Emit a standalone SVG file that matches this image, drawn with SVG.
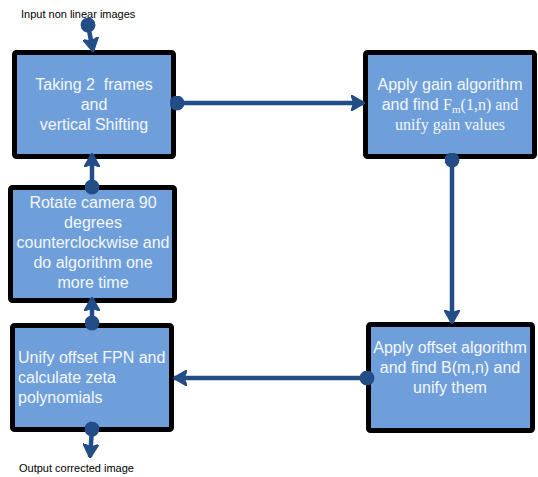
<svg xmlns="http://www.w3.org/2000/svg" width="538" height="477" viewBox="0 0 538 477">
<defs>
<style>
.box{fill:#6f9fdb;stroke:#000;stroke-width:5}
.t{font-family:"Liberation Sans",Arial,sans-serif;font-size:16px;fill:#f4f7fc}
.tr{font-family:"Liberation Serif","Times New Roman",serif;font-size:16px;fill:#f4f7fc}
.lbl{font-family:"Liberation Sans",Arial,sans-serif;font-size:11px;fill:#000}
.c{stroke:#234d86;stroke-width:4.5;fill:none;marker-start:url(#dot);marker-end:url(#arr)}
</style>
<marker id="arr" viewBox="0 0 14 16" refX="13" refY="8" markerWidth="14" markerHeight="16" markerUnits="userSpaceOnUse" orient="auto">
<path d="M0,0 L14,8 L0,16 L3,8 Z" fill="#234d86" stroke="#234d86" stroke-width="1.5" stroke-linejoin="round"/>
</marker>
<marker id="dot" viewBox="0 0 14 14" refX="7" refY="7" markerWidth="15" markerHeight="15" markerUnits="userSpaceOnUse" orient="auto">
<circle cx="7" cy="7" r="7" fill="#234d86"/>
</marker>
</defs>
<g id="input-label"><text class="lbl" x="21" y="18">Input non linear images</text></g>
<g id="output-label"><text class="lbl" x="19" y="472">Output corrected image</text></g>
<g id="n1">
<rect class="box" x="14.5" y="52.5" width="159" height="104" rx="2"/>
<text class="t" text-anchor="middle"><tspan x="94" y="90" xml:space="preserve">Taking 2  frames</tspan><tspan x="94" y="110">and</tspan><tspan x="94" y="130">vertical Shifting</tspan></text>
</g>
<g id="n2">
<rect class="box" x="365.5" y="52.5" width="169" height="104" rx="2"/>
<text class="t" text-anchor="middle" x="450" y="90">Apply gain algorithm</text>
<text text-anchor="middle" y="110"><tspan x="450" class="t">and find </tspan><tspan class="tr">F</tspan><tspan class="tr" style="font-size:11px" dy="3">m</tspan><tspan class="tr" dy="-3">(1,n) and</tspan></text>
<text class="tr" text-anchor="middle" x="450" y="130">unify gain values</text>
</g>
<g id="n3">
<rect class="box" x="10.5" y="187.5" width="164" height="113" rx="2"/>
<text class="t" text-anchor="middle"><tspan x="93" y="208">Rotate camera 90</tspan><tspan x="93" y="228">degrees</tspan><tspan x="93" y="248">counterclockwise and</tspan><tspan x="93" y="268">do algorithm one</tspan><tspan x="93" y="288">more time</tspan></text>
</g>
<g id="n4">
<rect class="box" x="12.5" y="325.5" width="159" height="104" rx="2"/>
<text class="t"><tspan x="18" y="363">Unify offset FPN and</tspan><tspan x="18" y="383">calculate zeta</tspan><tspan x="18" y="403">polynomials</tspan></text>
</g>
<g id="n5">
<rect class="box" x="368.5" y="324.5" width="164" height="106" rx="2"/>
<text class="t" text-anchor="middle"><tspan x="450" y="353">Apply offset algorithm</tspan><tspan x="450" y="373">and find B(m,n) and</tspan><tspan x="450" y="393">unify them</tspan></text>
</g>
<g id="connectors">
<path class="c" d="M88,25 L93,51"/>
<path class="c" d="M177,103 L364,103"/>
<path class="c" d="M452,160 L452,323"/>
<path class="c" d="M367,378 L174,378"/>
<path class="c" d="M92,323 L92,298"/>
<path class="c" d="M92,187 L92,154"/>
<path class="c" d="M92,429 L90,457"/>
</g>
</svg>
